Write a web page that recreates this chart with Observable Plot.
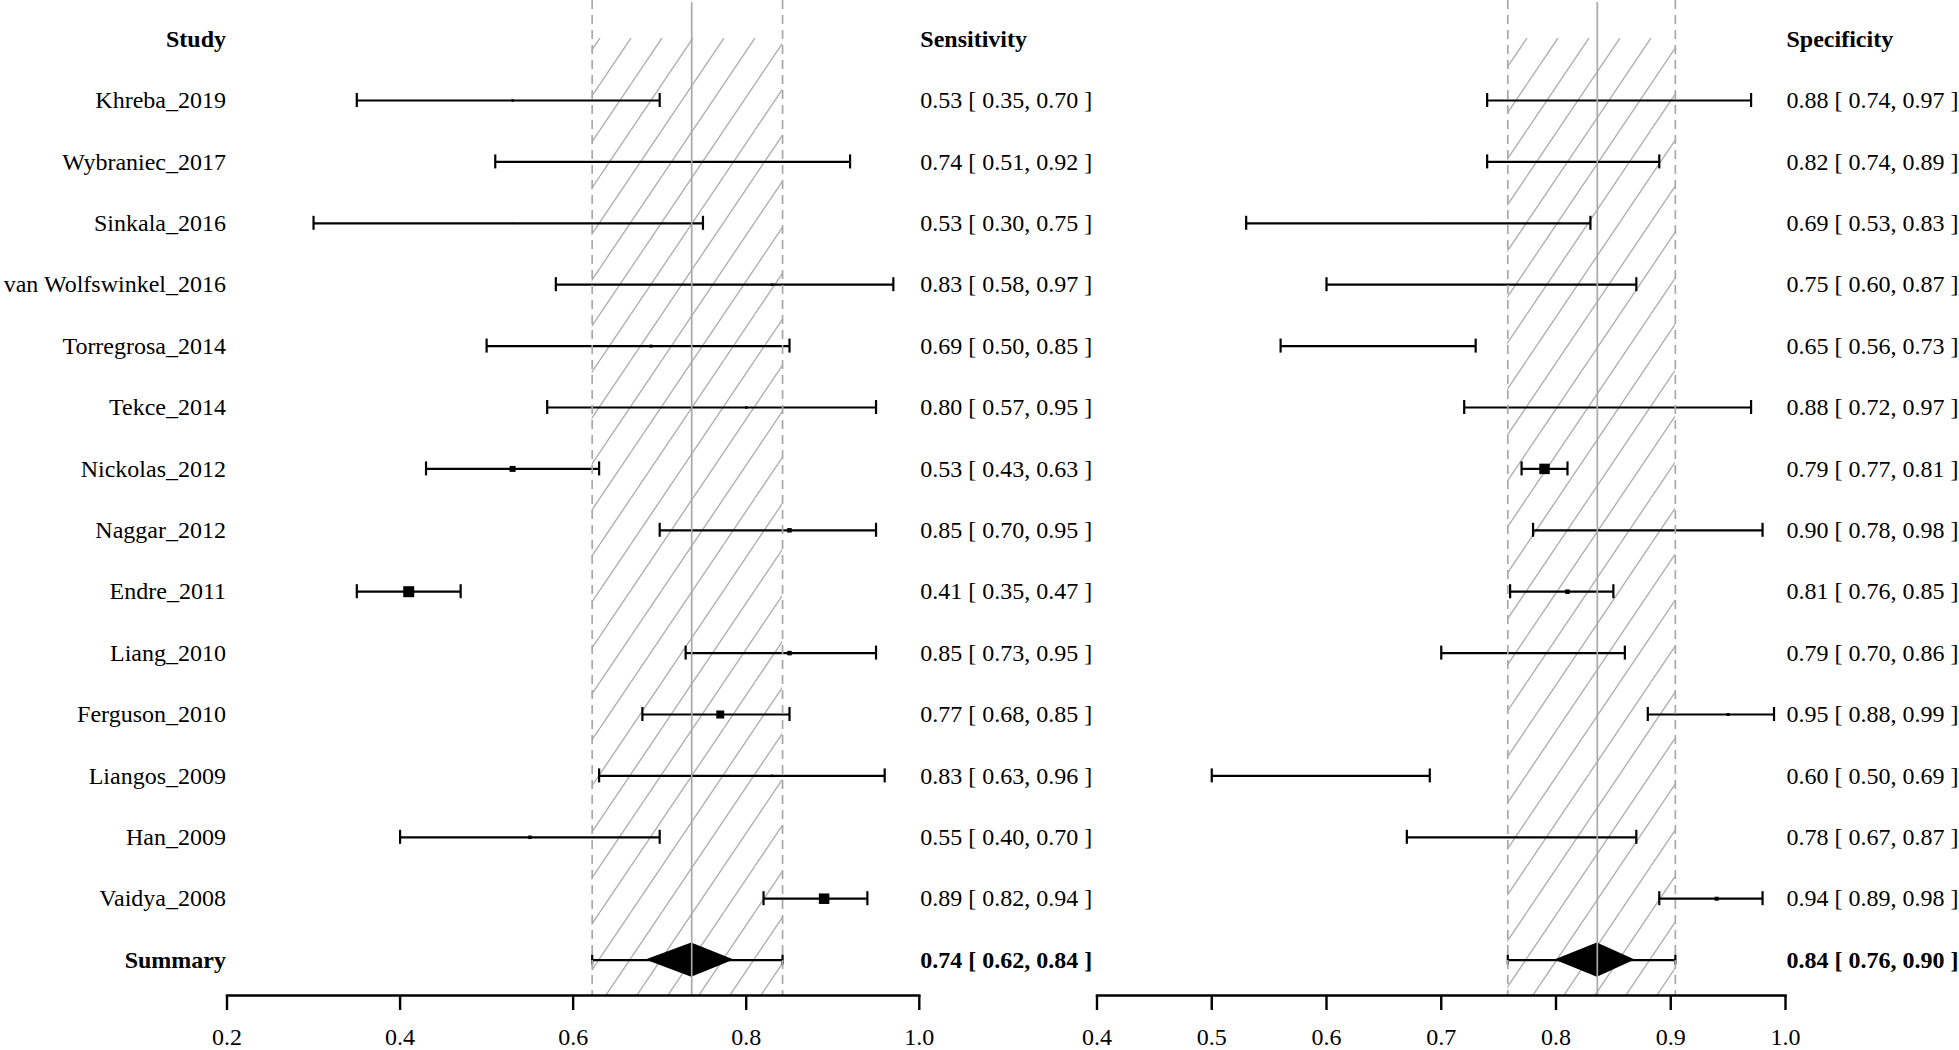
<!DOCTYPE html>
<html>
<head>
<meta charset="utf-8">
<script src="https://cdn.jsdelivr.net/npm/d3@7"></script>
<script src="https://cdn.jsdelivr.net/npm/@observablehq/plot@0.6"></script>
<style>
  body { margin: 0; background: #fff; }
  #chart { position: relative; width: 1959px; height: 1050px; overflow: hidden; background: #fff;
           font-family: "Liberation Serif", "Times New Roman", serif; }
  #chart svg { position: absolute; top: 0; overflow: visible; background: transparent; }
</style>
</head>
<body>
<div id="chart"></div>
<script>
// ---------- data ----------
const studies = ["Khreba_2019", "Wybraniec_2017", "Sinkala_2016", "van Wolfswinkel_2016",
  "Torregrosa_2014", "Tekce_2014", "Nickolas_2012", "Naggar_2012", "Endre_2011",
  "Liang_2010", "Ferguson_2010", "Liangos_2009", "Han_2009", "Vaidya_2008"];

const sensEst = [0.53, 0.74, 0.53, 0.83, 0.69, 0.80, 0.53, 0.85, 0.41, 0.85, 0.77, 0.83, 0.55, 0.89];
const sensLo  = [0.35, 0.51, 0.30, 0.58, 0.50, 0.57, 0.43, 0.70, 0.35, 0.73, 0.68, 0.63, 0.40, 0.82];
const sensHi  = [0.70, 0.92, 0.75, 0.97, 0.85, 0.95, 0.63, 0.95, 0.47, 0.95, 0.85, 0.96, 0.70, 0.94];
const sensWeight = [2.5, 1.5, 1.5, 2.5, 3, 2.5, 6, 4.5, 11, 4.5, 8, 2.5, 3.5, 10.5];

const specEst = [0.88, 0.82, 0.69, 0.75, 0.65, 0.88, 0.79, 0.90, 0.81, 0.79, 0.95, 0.60, 0.78, 0.94];
const specLo  = [0.74, 0.74, 0.53, 0.60, 0.56, 0.72, 0.77, 0.78, 0.76, 0.70, 0.88, 0.50, 0.67, 0.89];
const specHi  = [0.97, 0.89, 0.83, 0.87, 0.73, 0.97, 0.81, 0.98, 0.85, 0.86, 0.99, 0.69, 0.87, 0.98];
const specWeight = [1.5, 1.5, 1, 1, 1.5, 1, 10.5, 1, 4.5, 2, 3, 1, 1, 4];

// summary: [estimate, lower, upper]
const sensSummary = [0.737, 0.622, 0.842];
const specSummary = [0.836, 0.758, 0.904];
// summary diamond extent
const sensDiamond = [0.684, 0.786];
const specDiamond = [0.799, 0.869];

const sensTicks = [0.2, 0.4, 0.6, 0.8, 1.0];
const specTicks = [0.4, 0.5, 0.6, 0.7, 0.8, 0.9, 1.0];

// ---------- drawing ----------
const FONT = "Liberation Serif, Times New Roman, serif";
const fmt2 = d3.format(".2f");
const ciText = (e, l, h) => `${fmt2(e)} [ ${fmt2(l)}, ${fmt2(h)} ]`;
const GREY = "#a8a8a8";
const SW = 2.2;

function panel(o) {
  const rows = studies.map((s, i) => ({study: s, i, est: o.est[i], lo: o.lo[i], hi: o.hi[i], w: o.weight[i]}));
  const sumRow = studies.length;
  const [sEst, sLo, sHi] = o.summary;
  const sum = [{i: sumRow, est: sEst, lo: sLo, hi: sHi}];
  const dh = 0.28;
  const diamond = [
    {x: o.diamond[0], y1: sumRow, y2: sumRow},
    {x: sEst, y1: sumRow - dh, y2: sumRow + dh},
    {x: o.diamond[1], y1: sumRow, y2: sumRow}
  ];
  const marks = [
    Plot.rect([{lo: sLo, hi: sHi}], {x1: "lo", x2: "hi", insetTop: 38, fill: `url(#${o.id})`}),
    Plot.ruleY(rows, {y: "i", x1: "lo", x2: "hi", stroke: "black", strokeWidth: SW}),
    Plot.ruleX(rows, {x: "lo", y1: "i", y2: "i", insetTop: -7, insetBottom: -7, stroke: "black", strokeWidth: SW}),
    Plot.ruleX(rows, {x: "hi", y1: "i", y2: "i", insetTop: -7, insetBottom: -7, stroke: "black", strokeWidth: SW}),
    Plot.dot(rows, {x: "est", y: "i", r: "w", symbol: "square", fill: "black", stroke: "none"}),
    Plot.ruleY(sum, {y: "i", x1: "lo", x2: "hi", stroke: "black", strokeWidth: SW}),
    Plot.ruleX(sum, {x: "lo", y1: "i", y2: "i", insetTop: -5, insetBottom: -5, stroke: "black", strokeWidth: SW}),
    Plot.ruleX(sum, {x: "hi", y1: "i", y2: "i", insetTop: -5, insetBottom: -5, stroke: "black", strokeWidth: SW}),
    Plot.areaY(diamond, {x: "x", y1: "y1", y2: "y2", fill: "black"}),
    Plot.ruleX([sLo, sHi], {stroke: GREY, strokeWidth: 1.7, strokeDasharray: "9,6"}),
    Plot.ruleX([sEst], {stroke: GREY, strokeWidth: 1.7, insetTop: 2}),
    Plot.frame({anchor: "bottom", stroke: "black", strokeWidth: 2.4}),
    Plot.axisX({ticks: o.ticks, tickFormat: d3.format(".1f"), tickSize: 15, tickPadding: 17,
                fontSize: 24, strokeWidth: 2.4, stroke: "black", fill: "black"}),
    // value column
    Plot.text([{t: o.header}], {y: () => -1, text: "t", frameAnchor: "right", textAnchor: "start", dx: 1,
               fontSize: 24, fontWeight: "bold", fill: "black"}),
    Plot.text(rows, {y: "i", text: d => ciText(d.est, d.lo, d.hi), frameAnchor: "right", textAnchor: "start",
               dx: 1, fontSize: 24, fill: "black"}),
    Plot.text(sum, {y: "i", text: d => ciText(d.est, d.lo, d.hi), frameAnchor: "right", textAnchor: "start",
               dx: 1, fontSize: 24, fontWeight: "bold", fill: "black"})
  ];
  if (o.showStudies) {
    marks.push(
      Plot.text([{t: "Study"}], {y: () => -1, text: "t", frameAnchor: "left", textAnchor: "end", dx: -1,
                 fontSize: 24, fontWeight: "bold", fill: "black"}),
      Plot.text(rows, {y: "i", text: "study", frameAnchor: "left", textAnchor: "end", dx: -1,
                 fontSize: 24, fill: "black"}),
      Plot.text([{t: "Summary"}], {y: () => sumRow, text: "t", frameAnchor: "left", textAnchor: "end", dx: -1,
                 fontSize: 24, fontWeight: "bold", fill: "black"})
    );
  }
  const svg = Plot.plot({
    width: o.width, height: 1050,
    marginLeft: o.marginLeft, marginRight: o.marginRight, marginTop: 0, marginBottom: 55,
    x: {domain: o.domain},
    y: {domain: [-1, sumRow], range: [38.6, 959.6], axis: null},
    r: {type: "linear", domain: [0, 11], range: [0, 11 / Math.sqrt(Math.PI)]},
    style: {fontFamily: FONT, fontSize: "24px", background: "transparent", overflow: "visible", color: "black"},
    marks
  });
  // hatch pattern
  const defs = d3.select(svg).insert("defs", ":first-child");
  const pat = defs.append("pattern").attr("id", o.id).attr("patternUnits", "userSpaceOnUse")
    .attr("width", 31).attr("height", 46).attr("x", o.hatchX).attr("y", 38);
  pat.append("path").attr("d", "M-31,46L0,0M0,46L31,0M31,46L62,0")
    .attr("stroke", "#b0b0b0").attr("stroke-width", 1.4).attr("fill", "none");
  svg.style.left = o.left + "px";
  return svg;
}

const chart = document.getElementById("chart");
chart.append(panel({
  id: "hatchSens", est: sensEst, lo: sensLo, hi: sensHi, weight: sensWeight,
  summary: sensSummary, diamond: sensDiamond, domain: [0.2, 1.0], ticks: sensTicks,
  width: 1000, marginLeft: 226.5, marginRight: 81.2, left: 0, header: "Sensitivity",
  showStudies: true, hatchX: 600
}));
chart.append(panel({
  id: "hatchSpec", est: specEst, lo: specLo, hi: specHi, weight: specWeight,
  summary: specSummary, diamond: specDiamond, domain: [0.4, 1.0], ticks: specTicks,
  width: 959, marginLeft: 96.5, marginRight: 174, left: 1000, header: "Specificity",
  showStudies: false, hatchX: 527
}));
</script>
</body>
</html>
